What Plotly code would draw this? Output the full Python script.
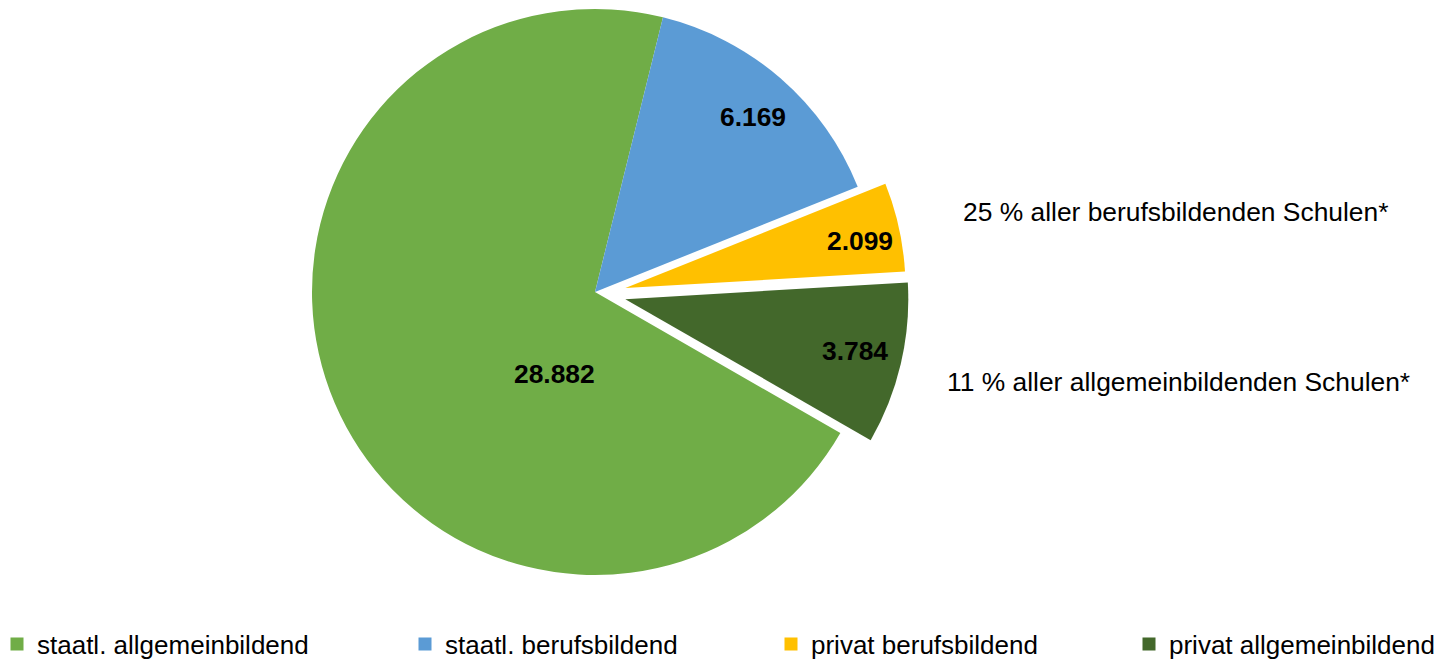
import math
import plotly.graph_objects as go

# ---------------- data ----------------
categories = ["staatl. allgemeinbildend", "staatl. berufsbildend",
              "privat berufsbildend", "privat allgemeinbildend"]
values = [28882, 6169, 2099, 3784]
value_labels = ["28.882", "6.169", "2.099", "3.784"]
pulled = [False, False, True, True]
notes = ["25 % aller berufsbildenden Schulen*",
         "11 % aller allgemeinbildenden Schulen*"]

# ---------------- style / layout ----------------
colors = ["#70AD47", "#5B9BD5", "#FFC000", "#43682B"]
PAGE_MARGIN = 8                     # default body margin of the html page
W, H = 1445 - PAGE_MARGIN, 659 - PAGE_MARGIN
CX, CY, R = 595, 292, 283          # pie centre and radius (window px)
PULL = 0.11                         # pull-out as fraction of radius
BLUE_START = 13.9                   # deg clockwise from 12 o'clock where slice 2 starts
FONT = "Liberation Sans, Arial, sans-serif"
FS = 26.4
LEG_FS = 26.0

label_pos = [(554, 374), (753, 117), (860, 241), (855, 351)]   # value label centres (window px)
note_pos = [(961, 212), (945, 382)]                              # note left / middle (window px)
legend_text_x = [37, 445, 811, 1169]
legend_y = 644


def px(x):
    return (x - PAGE_MARGIN) / W


def py(y):
    return (H - (y - PAGE_MARGIN)) / H


total = sum(values)
degs = [v / total * 360.0 for v in values]
rotation = BLUE_START - degs[0]
starts = []
acc = rotation
for d in degs:
    starts.append(acc)
    acc += d
mids = [s + d / 2 for s, d in zip(starts, degs)]


def dom(cx, cy):
    return dict(x=[max(0, px(cx - R)), min(1, px(cx + R))],
                y=[max(0, py(cy + R)), min(1, py(cy - R))])


fig = go.Figure()

transparent = "rgba(0,0,0,0)"
# base pie: non-pulled slices
fig.add_trace(go.Pie(
    labels=categories, values=values, sort=False, direction="clockwise",
    rotation=rotation, textinfo="none", showlegend=False,
    marker=dict(colors=[c if not p else transparent for c, p in zip(colors, pulled)],
                line=dict(width=0)),
    domain=dom(CX, CY), hoverinfo="label+value",
))
# pulled slices, each as its own pie offset along the slice bisector
for i, p in enumerate(pulled):
    if not p:
        continue
    a = math.radians(mids[i])
    dx = PULL * R * math.sin(a)
    dy = -PULL * R * math.cos(a)
    fig.add_trace(go.Pie(
        labels=categories, values=values, sort=False, direction="clockwise",
        rotation=rotation, textinfo="none", showlegend=False,
        marker=dict(colors=[c if j == i else transparent for j, c in enumerate(colors)],
                    line=dict(width=0)),
        domain=dom(CX + dx, CY + dy), hoverinfo="label+value",
    ))

# legend entries
legend_names = ["legend", "legend2", "legend3", "legend4"]
for i, cat in enumerate(categories):
    fig.add_trace(go.Scatter(
        x=[None], y=[None], mode="markers", name=cat,
        marker=dict(symbol="square", size=13, color=colors[i]),
        legend=legend_names[i], showlegend=True, hoverinfo="skip",
    ))

annotations = []
for (x, y), txt in zip(label_pos, value_labels):
    annotations.append(dict(
        x=px(x), y=py(y), xref="paper", yref="paper",
        text="<b>" + txt + "</b>", showarrow=False, xanchor="center", yanchor="middle",
        font=dict(family=FONT, size=FS, color="black")))
for (x, y), txt in zip(note_pos, notes):
    annotations.append(dict(
        x=px(x), y=py(y), xref="paper", yref="paper",
        text=txt, showarrow=False, xanchor="left", yanchor="middle",
        font=dict(family=FONT, size=FS, color="black")))

layout_legends = {}
for i, ln in enumerate(legend_names):
    layout_legends[ln] = dict(
        x=px(legend_text_x[i] - 40), y=py(legend_y),
        xanchor="left", yanchor="middle", orientation="h",
        bgcolor="rgba(0,0,0,0)", borderwidth=0,
        font=dict(family=FONT, size=LEG_FS, color="black"))

fig.update_layout(
    width=W, height=H,
    margin=dict(l=0, r=0, t=0, b=0, autoexpand=False),
    paper_bgcolor="white", plot_bgcolor="white",
    xaxis=dict(visible=False), yaxis=dict(visible=False),
    annotations=annotations,
    **layout_legends,
)

fig.write_html("out.html")
